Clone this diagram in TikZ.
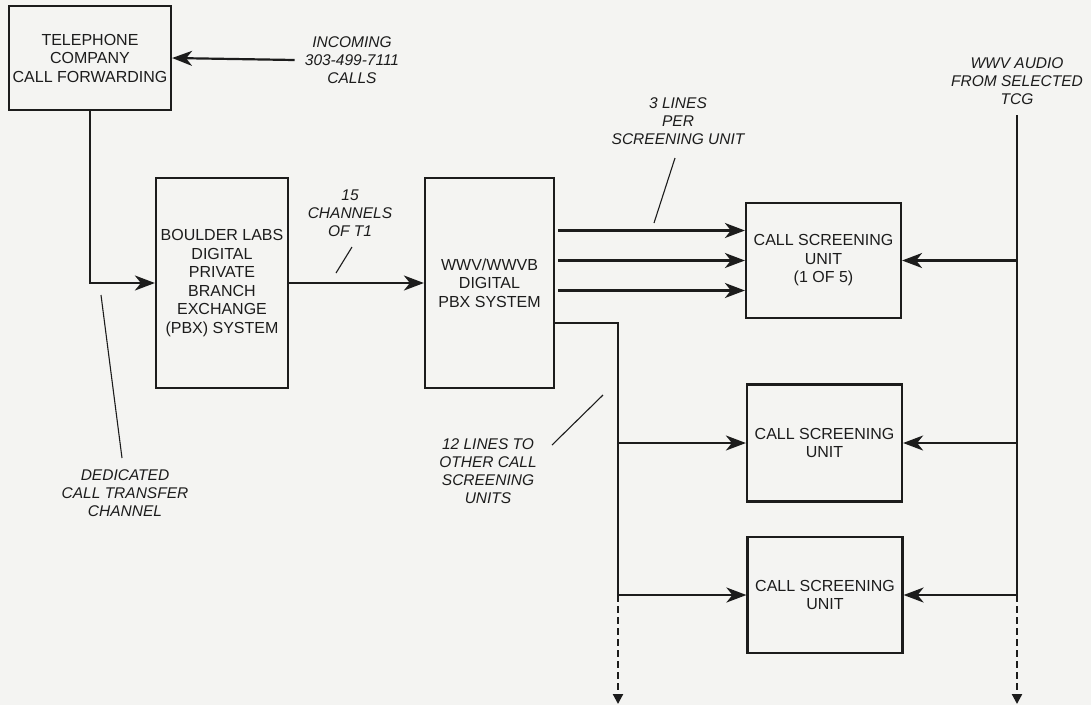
\documentclass[tikz,border=0pt]{standalone}
\usepackage{fontspec}
\setmainfont{Liberation Sans}
\usetikzlibrary{arrows.meta}
\definecolor{paper}{RGB}{244,244,242}
\definecolor{ink}{RGB}{28,28,28}
\newcommand{\lbl}{\fontsize{15.5}{18}\selectfont\itshape}
\begin{document}
\begin{tikzpicture}[x=1pt,y=-1pt,
    box/.style={draw=ink, line width=2.2pt, align=center, inner sep=0pt, text=ink,
                font=\fontsize{16}{18.5}\selectfont},
    note/.style={align=center, inner sep=0pt, text=ink, font=\lbl},
    wire/.style={draw=ink, line width=2.2pt},
    arr/.style={wire, -{Stealth[length=20pt,width=15pt,inset=6pt]}},
    darr/.style={draw=ink, line width=2.2pt, dash pattern=on 7pt off 4pt,
                 -{Triangle[length=10pt,width=10pt]}},
    lead/.style={draw=ink, line width=1.1pt}]
  % paper
  \fill[paper] (0,0) rectangle (1091,705);
  \useasboundingbox (0,0) rectangle (1091,705);

  % boxes
  \node[box, minimum width=162pt, minimum height=104pt] (tel) at (90,58)
    {TELEPHONE\\COMPANY\\CALL FORWARDING};
  \node[box, minimum width=132pt, minimum height=210pt] (pbxa) at (222,283)
    {BOULDER LABS\\DIGITAL\\PRIVATE\\BRANCH\\EXCHANGE\\(PBX) SYSTEM};
  \node[box, minimum width=129pt, minimum height=210pt] (pbxb) at (489.5,283)
    {WWV/WWVB\\DIGITAL\\PBX SYSTEM};
  \node[box, minimum width=155pt, minimum height=115pt] (csu1) at (823.5,260.5)
    {CALL SCREENING\\UNIT\\(1 OF 5)};
  \node[box, minimum width=155pt, minimum height=117pt] (csu2) at (824.5,443)
    {CALL SCREENING\\UNIT};
  \node[box, minimum width=155pt, minimum height=116pt] (csu3) at (825,595)
    {CALL SCREENING\\UNIT};

  % labels
  \node[note] (inc) at (352,60) {INCOMING\\303-499-7111\\CALLS};
  \node[note] (aud) at (1017,81) {WWV AUDIO\\FROM SELECTED\\TCG};
  \node[note] (chan) at (350,213) {15\\CHANNELS\\OF T1};
  \node[note] (per) at (678,121) {3 LINES\\PER\\SCREENING UNIT};
  \node[note] (other) at (488,471) {12 LINES TO\\OTHER CALL\\SCREENING\\UNITS};
  \node[note] (ded) at (125,493) {DEDICATED\\CALL TRANSFER\\CHANNEL};

  % junctions
  \coordinate (bus) at (618,323);
  \coordinate (audtop) at (1017,115);
  \coordinate (endl) at (618,704);
  \coordinate (endr) at (1017,704);

  % incoming calls and forwarding
  \draw[arr] ([xshift=-10pt]inc.west) -- (tel.east);
  \draw[arr] (tel.south) |- (pbxa.west);
  \draw[arr] (pbxa.east) -- (pbxb.west);

  % three lines to first unit
  \foreach \dy in {30,0,-30}
    \draw[arr] ([xshift=3pt,yshift=\dy pt]csu1.west -| pbxb.east) -- ([yshift=\dy pt]csu1.west);

  % lines to other units
  \draw[wire] (pbxb.east |- bus) -- (bus) -- (bus |- csu3.west);
  \draw[arr] (bus |- csu2.west) -- (csu2.west);
  \draw[arr] (bus |- csu3.west) -- (csu3.west);
  \draw[darr] (bus |- csu3.west) -- (endl);

  % audio feed
  \draw[wire] (audtop) -- (audtop |- csu3.east);
  \draw[arr] (audtop |- csu1.east) -- (csu1.east);
  \draw[arr] (audtop |- csu2.east) -- (csu2.east);
  \draw[arr] (audtop |- csu3.east) -- (csu3.east);
  \draw[darr] (audtop |- csu3.east) -- (endr);

  % leaders
  \coordinate (chanA) at (352,247);
  \coordinate (chanB) at (336,273);
  \coordinate (perA) at (675,158);
  \coordinate (perB) at (654,223);
  \coordinate (otherA) at (603,395);
  \coordinate (otherB) at (552,445);
  \coordinate (dedA) at (101,295);
  \coordinate (dedB) at (122,458);
  \draw[lead] (chanA) -- (chanB);
  \draw[lead] (perA) -- (perB);
  \draw[lead] (otherA) -- (otherB);
  \draw[lead] (dedA) -- (dedB);
\end{tikzpicture}
\end{document}
